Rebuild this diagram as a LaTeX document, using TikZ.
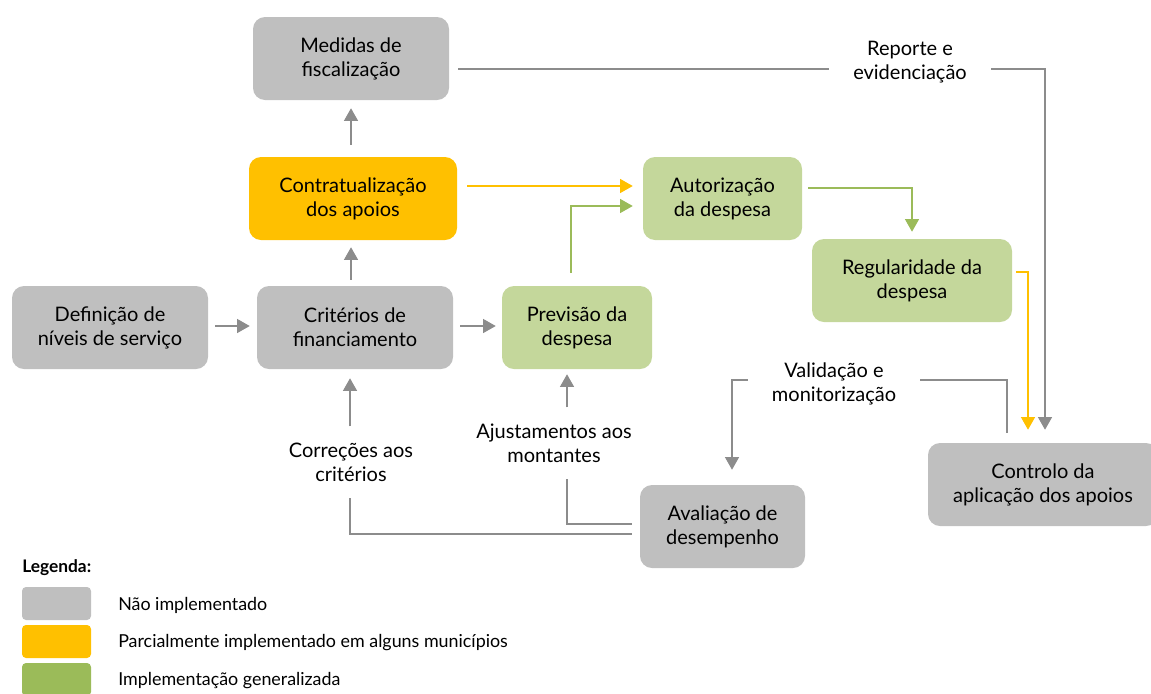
\documentclass[tikz,border=0pt]{standalone}
\usepackage{fontspec}
\setmainfont{Lato}
\usetikzlibrary{arrows.meta}
\definecolor{boxgray}{HTML}{BFBFBF}
\definecolor{boxorange}{HTML}{FFC000}
\definecolor{boxgreen}{HTML}{C4D79B}
\definecolor{leggreen}{HTML}{9BBB59}
\definecolor{linegray}{HTML}{8C8C8C}
\definecolor{lineorange}{HTML}{FFC000}
\definecolor{linegreen}{HTML}{9BBB59}
\tikzset{
  box/.style={rounded corners=9pt, minimum height=62.25pt, align=center, inner sep=0pt,
    font=\fontsize{15}{18}\selectfont},
  gbox/.style={box, fill=boxgray},
  obox/.style={box, fill=boxorange},
  grbox/.style={box, fill=boxgreen},
  lbl/.style={align=center, font=\fontsize{15}{18}\selectfont, inner ysep=2pt, inner xsep=18pt},
  tip/.style={-{Triangle[width=10.5pt,length=9.5pt]}},
  gline/.style={draw=linegray, line width=1pt},
  garrow/.style={color=linegray, line width=1pt, tip},
  oarrow/.style={color=lineorange, line width=1pt, tip},
  grarrow/.style={color=linegreen, line width=1pt, tip},
  swatch/.style={rounded corners=3pt, minimum width=51.75pt, minimum height=24.75pt, inner sep=0pt},
  legtxt/.style={anchor=west, font=\fontsize{13.4}{15}\selectfont, inner sep=0pt}
}
\begin{document}
\begin{tikzpicture}[x=0.75pt,y=-0.75pt]
\useasboundingbox (0,0) rectangle (1151,693);
% boxes
\node[gbox, minimum width=147pt] (med) at (351,58.5) {Medidas de\\fiscalização};
\node[obox, minimum width=156pt] (contr) at (353,198.5) {Contratualização\\dos apoios};
\node[gbox, minimum width=147pt] (def) at (110,327.5) {Definição de\\níveis de serviço};
\node[gbox, minimum width=147pt] (crit) at (355,327.5) {Critérios de\\financiamento};
\node[grbox, minimum width=112.5pt] (prev) at (577,327.5) {Previsão da\\despesa};
\node[grbox, minimum width=119.25pt] (aut) at (722.5,198.5) {Autorização\\da despesa};
\node[grbox, minimum width=150pt] (reg) at (912,280.5) {Regularidade da\\despesa};
\node[gbox, minimum width=172.5pt] (ctrl) at (1043,484.5) {Controlo da\\aplicação dos apoios};
\node[gbox, minimum width=123.75pt] (aval) at (722.5,526.5) {Avaliação de\\desempenho};
% labels
\node[lbl] (rep) at (910,62) {Reporte e\\evidenciação};
\node[lbl] (val) at (834,384) {Validação e\\monitorização};
\node[lbl, inner ysep=12pt] (cor) at (351,462) {Correções aos\\critérios};
\node[lbl, inner ysep=12pt] (aj) at (554,443) {Ajustamentos aos\\montantes};
% connectors
\draw[garrow, shorten <=9pt, shorten >=6pt] (contr.north -| 351,0) -- (med.south -| 351,0);
\draw[garrow, shorten <=4.5pt, shorten >=5.25pt] (crit.north -| 351,0) -- (contr.south -| 351,0);
\draw[garrow, shorten <=5.25pt, shorten >=5.25pt] (def.east |- 0,326) -- (crit.west |- 0,326);
\draw[garrow, shorten <=5.25pt, shorten >=4.5pt] (crit.east |- 0,326) -- (prev.west |- 0,326);
\draw[oarrow, shorten <=7.5pt, shorten >=7.5pt] (contr.east |- 0,186) -- (aut.west |- 0,186);
\draw[grarrow, shorten <=9.75pt, shorten >=7.5pt] (prev.north -| 571,0) |- (aut.west |- 0,206);
\draw[grarrow, shorten <=4.5pt, shorten >=5.25pt] (aut.east |- 0,188) -| (reg.north);
\draw[oarrow, shorten <=3pt, shorten >=9.75pt] (reg.east |- 0,272) -| (ctrl.north -| 1028,0);
\draw[gline, shorten <=6.75pt] (med.east |- 0,69) -- (rep.west |- 0,69);
\draw[garrow, shorten >=9.75pt] (rep.east |- 0,69) -| (ctrl.north -| 1045,0);
\draw[gline, shorten <=7.5pt] (ctrl.north -| 1007,0) |- (val.east |- 0,380);
\draw[garrow, shorten >=11.25pt] (val.west |- 0,380) -| (aval.north -| 732,0);
\draw[gline, shorten <=6pt] (aval.west |- 0,534) -| (cor.south -| 350,0);
\draw[garrow, shorten >=6.75pt] (cor.north -| 350,0) -- (crit.south -| 350,0);
\draw[gline, shorten <=6pt] (aval.west |- 0,524) -| (aj.south -| 567,0);
\draw[garrow, shorten >=3.75pt] (aj.north -| 567,0) -- (prev.south -| 567,0);
% legend
\node[anchor=west, inner sep=0pt, font=\fontsize{13}{15}\bfseries\selectfont] (leg) at (22,568) {Legenda:};
\node[swatch, fill=boxgray] (s1) at (56.5,603.5) {};
\node[swatch, fill=boxorange] (s2) at (56.5,641.5) {};
\node[swatch, fill=leggreen] (s3) at (56.5,679.5) {};
\node[legtxt] (t1) at (118,605) {Não implementado};
\node[legtxt] (t2) at (118,643) {Parcialmente implementado em alguns municípios};
\node[legtxt] (t3) at (118,681) {Implementação generalizada};
\end{tikzpicture}
\end{document}
